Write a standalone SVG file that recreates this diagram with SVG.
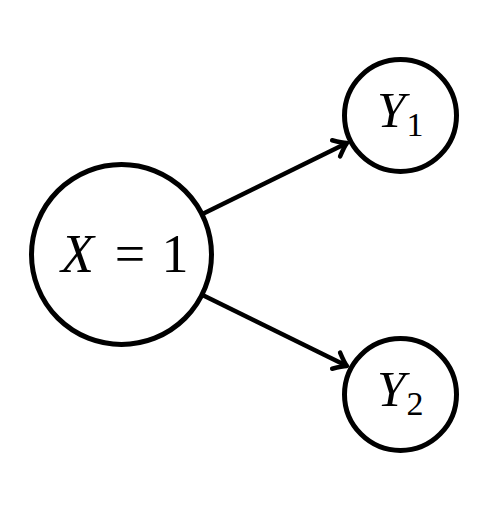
<svg xmlns="http://www.w3.org/2000/svg" width="490" height="506" viewBox="0 0 490 506">
<defs>
<style>
.node{fill:#fff;stroke:#000;stroke-width:5}
.edge{fill:none;stroke:#000;stroke-width:4.5}
.it{font-family:"Liberation Serif","DejaVu Serif",serif;font-style:italic}
.rm{font-family:"Liberation Serif","DejaVu Serif",serif}
</style>
<marker id="arr" markerUnits="userSpaceOnUse" orient="auto" refX="0" refY="0" markerWidth="30" markerHeight="30" viewBox="-15 -15 30 30" overflow="visible">
<path d="M -11 -9 Q -3 -2 1 0 Q -3 2 -11 9" fill="none" stroke="#000" stroke-width="4.5" stroke-linecap="round" stroke-linejoin="round"/>
</marker>
</defs>
<rect width="490" height="506" fill="#fff"/>
<g id="connectors">
<line class="edge" x1="203" y1="213.8" x2="346" y2="143.5" marker-end="url(#arr)"/>
<line class="edge" x1="203" y1="295.2" x2="346" y2="365.5" marker-end="url(#arr)"/>
</g>
<g id="nodeX">
<circle class="node" cx="121.5" cy="254.5" r="90"/>
<text class="it" x="61" y="272" font-size="54">X</text>
<text class="rm" x="130" y="272" font-size="54" text-anchor="middle">=</text>
<text class="rm" x="175" y="272" font-size="54" text-anchor="middle">1</text>
</g>
<g id="nodeY1">
<circle class="node" cx="400.5" cy="115.5" r="56"/>
<text class="it" x="377" y="127" font-size="51">Y</text>
<text class="rm" x="415" y="136" font-size="34" text-anchor="middle">1</text>
</g>
<g id="nodeY2">
<circle class="node" cx="400.5" cy="394.5" r="56"/>
<text class="it" x="377" y="406" font-size="51">Y</text>
<text class="rm" x="415" y="415" font-size="34" text-anchor="middle">2</text>
</g>
</svg>
